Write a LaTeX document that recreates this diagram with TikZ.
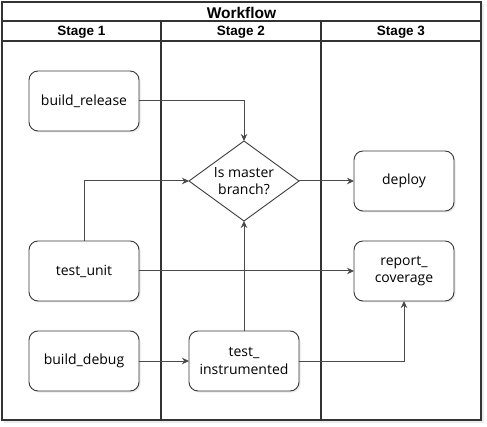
\documentclass[tikz,border=0pt]{standalone}
\usepackage{fontspec}
\setmainfont{Open Sans}
\newfontfamily\hdrfont{Liberation Sans}
\usetikzlibrary{shapes.geometric,arrows.meta,shadows}
\definecolor{lanecol}{HTML}{333333}
\definecolor{nodecol}{HTML}{3A3A3A}
\definecolor{conncol}{HTML}{4A4A4A}
\begin{document}
\begin{tikzpicture}[x=1pt,y=-1pt,
  lane/.style={draw=lanecol,line width=1.4pt},
  hdrtext/.style={font=\hdrfont\bfseries\fontsize{13.5}{15}\selectfont,text=black,inner sep=0pt},
  titletext/.style={font=\hdrfont\bfseries\fontsize{15.5}{17}\selectfont,text=black,inner sep=0pt},
  proc/.style={draw=nodecol,line width=0.9pt,fill=white,rounded corners=9pt,
    minimum width=110pt,minimum height=60pt,inner sep=2pt,outer sep=0pt,align=center,
    font=\fontsize{14}{17.5}\selectfont,
    drop shadow={opacity=0.18,shadow xshift=1.5pt,shadow yshift=-1.5pt}},
  proc3/.style={proc,minimum width=100pt},
  decision/.style={draw=nodecol,line width=0.9pt,fill=white,diamond,aspect=1.375,
    minimum width=110pt,minimum height=80pt,inner sep=0pt,outer sep=0pt,align=center,
    font=\fontsize{14}{17.5}\selectfont},
  conn/.style={draw=conncol,line width=1pt,-{Stealth[length=7pt,width=6.5pt]}}
]
\useasboundingbox (0,0) rectangle (487,427);
% pool shadow
\fill[black,opacity=0.08] (4,4) rectangle (484,423);
\fill[white] (2,2) rectangle (481,420);
% lanes
\draw[lane] (2,2) rectangle (481,420);
\draw[lane] (2,21) -- (481,21);
\draw[lane] (2,41) -- (481,41);
\draw[lane] (161,21) -- (161,420);
\draw[lane] (321,21) -- (321,420);
\node[titletext] (title) at (241.5,12.5) {Workflow};
\node[hdrtext] (s1) at (81.5,32) {Stage 1};
\node[hdrtext] (s2) at (241,32) {Stage 2};
\node[hdrtext] (s3) at (401,32) {Stage 3};
% nodes
\node[proc] (br) at (84,101) {build\_release};
\node[proc] (tu) at (84,271) {test\_unit};
\node[proc] (bd) at (84,361) {build\_debug};
\node[proc] (ti) at (244,361) {test\_\\instrumented};
\node[proc3] (dep) at (404,181) {deploy};
\node[proc3] (rc) at (404,271) {report\_\\coverage};
\node[decision] (dec) at (244,181) {Is master\\branch?};
% connectors
\draw[conn] (br.east) -| (dec.north);
\draw[conn] (tu.north) |- (dec.west);
\draw[conn] (dec.east) -- (dep.west);
\draw[conn] (tu.east) -- (rc.west);
\draw[conn] (bd.east) -- (ti.west);
\draw[conn] (ti.north) -- (dec.south);
\draw[conn] (ti.east) -| (rc.south);
\end{tikzpicture}
\end{document}
